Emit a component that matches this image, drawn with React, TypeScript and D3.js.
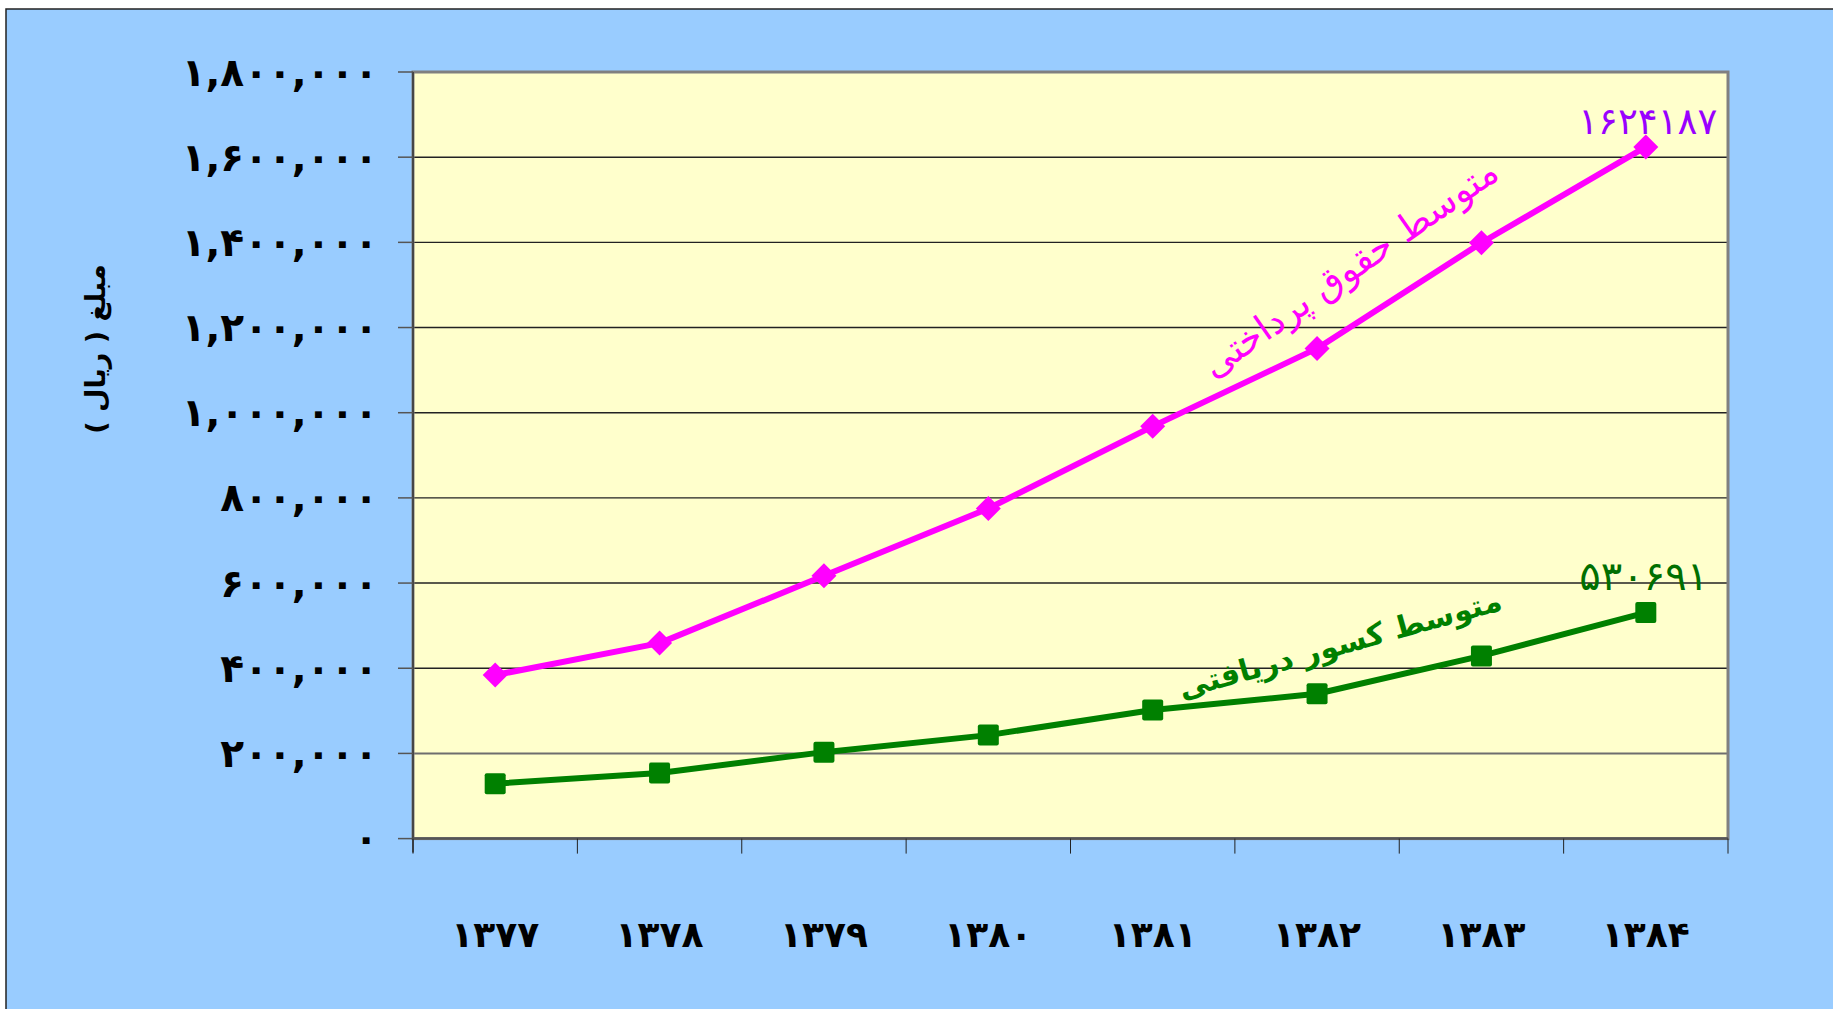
import React from "react";
import * as d3 from "d3";

// ---- data ----
const years: string[] = ["1377", "1378", "1379", "1380", "1381", "1382", "1383", "1384"];
const salary: number[] = [384000, 459000, 617000, 775000, 968000, 1151000, 1399000, 1624187];
const deductions: number[] = [129000, 154000, 203000, 243000, 302000, 340000, 429000, 530691];
const yTicks: number[] = [0, 200000, 400000, 600000, 800000, 1000000, 1200000, 1400000, 1600000, 1800000];
const salaryName = "متوسط حقوق پرداختی";
const deductionName = "متوسط کسور دریافتی";
const yTitle = "مبلغ ( ریال )";

const W = 1833;
const H = 1009;
const plot = { left: 413, right: 1728, top: 72, bottom: 838.6 };

const faDigits = "۰۱۲۳۴۵۶۷۸۹";
const toFa = (s: string) => s.replace(/[0-9]/g, (d) => faDigits[+d]);
const fmtTick = (v: number) => toFa(d3.format(",")(v));

const FONT = "'DejaVu Sans', sans-serif";

export default function App() {
  const x = d3.scaleBand<string>().domain(years).range([plot.left, plot.right]).padding(0);
  const y = d3.scaleLinear().domain([0, 1800000]).range([plot.bottom, plot.top]);
  const cx = (yr: string) => (x(yr) as number) + x.bandwidth() / 2;

  const line = d3
    .line<number>()
    .x((_, i) => cx(years[i]))
    .y((d) => y(d));

  const lastYear = years[years.length - 1];
  const boundaries = [...years.map((yr) => x(yr) as number), plot.right];

  return (
    <svg
      width={W}
      height={H}
      style={{ position: "absolute", left: 0, top: 0, background: "#ffffff" }}
    >
      {/* chart area */}
      <rect x={6} y={9} width={W} height={H} fill="#99CCFF" stroke="#222" strokeWidth={1.5} />
      {/* plot area */}
      <rect
        x={plot.left}
        y={plot.top}
        width={plot.right - plot.left}
        height={plot.bottom - plot.top}
        fill="#FFFFCC"
      />
      {/* gridlines */}
      {yTicks.slice(1).map((t) => (
        <line
          key={"g" + t}
          x1={plot.left}
          x2={plot.right}
          y1={y(t)}
          y2={y(t)}
          stroke={t === 200000 ? "#6e6e6e" : "#222"}
          strokeWidth={t === 200000 ? 2 : 1.4}
        />
      ))}
      {/* plot border */}
      <rect
        x={plot.left}
        y={plot.top}
        width={plot.right - plot.left}
        height={plot.bottom - plot.top}
        fill="none"
        stroke="#808080"
        strokeWidth={3}
      />
      {/* y axis */}
      <line x1={plot.left} x2={plot.left} y1={plot.top} y2={plot.bottom + 14} stroke="#333" strokeWidth={1.5} />
      {yTicks.map((t) => (
        <g key={"yt" + t}>
          <line x1={plot.left - 15} x2={plot.left} y1={y(t)} y2={y(t)} stroke="#555" strokeWidth={1.5} />
          <text
            x={378}
            y={y(t)}
            textAnchor="end"
            dominantBaseline="central"
            fontFamily={FONT}
            fontWeight="bold"
            fontSize={39}
            fill="#000"
            direction="ltr"
          >
            {fmtTick(t)}
          </text>
        </g>
      ))}
      {/* x axis */}
      <line x1={plot.left} x2={plot.right} y1={plot.bottom} y2={plot.bottom} stroke="#555" strokeWidth={2.5} />
      {boundaries.map((bx, i) => (
        <line key={"xt" + i} x1={bx} x2={bx} y1={plot.bottom} y2={plot.bottom + 15} stroke="#222" strokeWidth={1} />
      ))}
      {years.map((yr) => (
        <text
          key={"xl" + yr}
          x={cx(yr)}
          y={934}
          textAnchor="middle"
          dominantBaseline="central"
          fontFamily={FONT}
          fontWeight="bold"
          fontSize={36}
          fill="#000"
        >
          {toFa(yr)}
        </text>
      ))}
      {/* y title */}
      <text
        transform="translate(95,349) rotate(-90)"
        textAnchor="middle"
        dominantBaseline="central"
        fontFamily={FONT}
        fontWeight="bold"
        fontSize={27}
        fill="#000"
      >
        {yTitle}
      </text>

      {/* series: salary */}
      <path d={line(salary) as string} fill="none" stroke="#FF00FF" strokeWidth={6} strokeLinejoin="round" />
      {salary.map((v, i) => (
        <path
          key={"sm" + i}
          transform={`translate(${cx(years[i])},${y(v)})`}
          d="M0,-12.5L12.5,0L0,12.5L-12.5,0Z"
          fill="#FF00FF"
        />
      ))}
      {/* series: deductions */}
      <path d={line(deductions) as string} fill="none" stroke="#008000" strokeWidth={6} strokeLinejoin="round" />
      {deductions.map((v, i) => (
        <rect
          key={"dm" + i}
          x={cx(years[i]) - 10.5}
          y={y(v) - 10.5}
          width={21}
          height={21}
          rx={2}
          fill="#008000"
        />
      ))}

      {/* value labels */}
      <text
        x={cx(lastYear) + 2}
        y={y(salary[salary.length - 1]) - 25}
        textAnchor="middle"
        dominantBaseline="central"
        fontFamily={FONT}
        fontSize={37}
        letterSpacing={3}
        fill="#9900FF"
      >
        {toFa(String(salary[salary.length - 1]))}
      </text>
      <text
        x={cx(lastYear) - 2}
        y={y(deductions[deductions.length - 1]) - 37}
        textAnchor="middle"
        dominantBaseline="central"
        fontFamily={FONT}
        fontSize={40}
        letterSpacing={10}
        fill="#006F00"
      >
        {toFa(String(deductions[deductions.length - 1]))}
      </text>

      {/* series name labels */}
      <text
        transform="translate(1350,268) rotate(-35)"
        textAnchor="middle"
        dominantBaseline="central"
        fontFamily={FONT}
        fontSize={37}
        fill="#FF00FF"
        direction="rtl"
      >
        {salaryName}
      </text>
      <text
        transform="translate(1340,644) rotate(-15.5)"
        textAnchor="middle"
        dominantBaseline="central"
        fontFamily={FONT}
        fontWeight="bold"
        fontSize={30}
        fill="#008000"
        direction="rtl"
      >
        {deductionName}
      </text>
    </svg>
  );
}
